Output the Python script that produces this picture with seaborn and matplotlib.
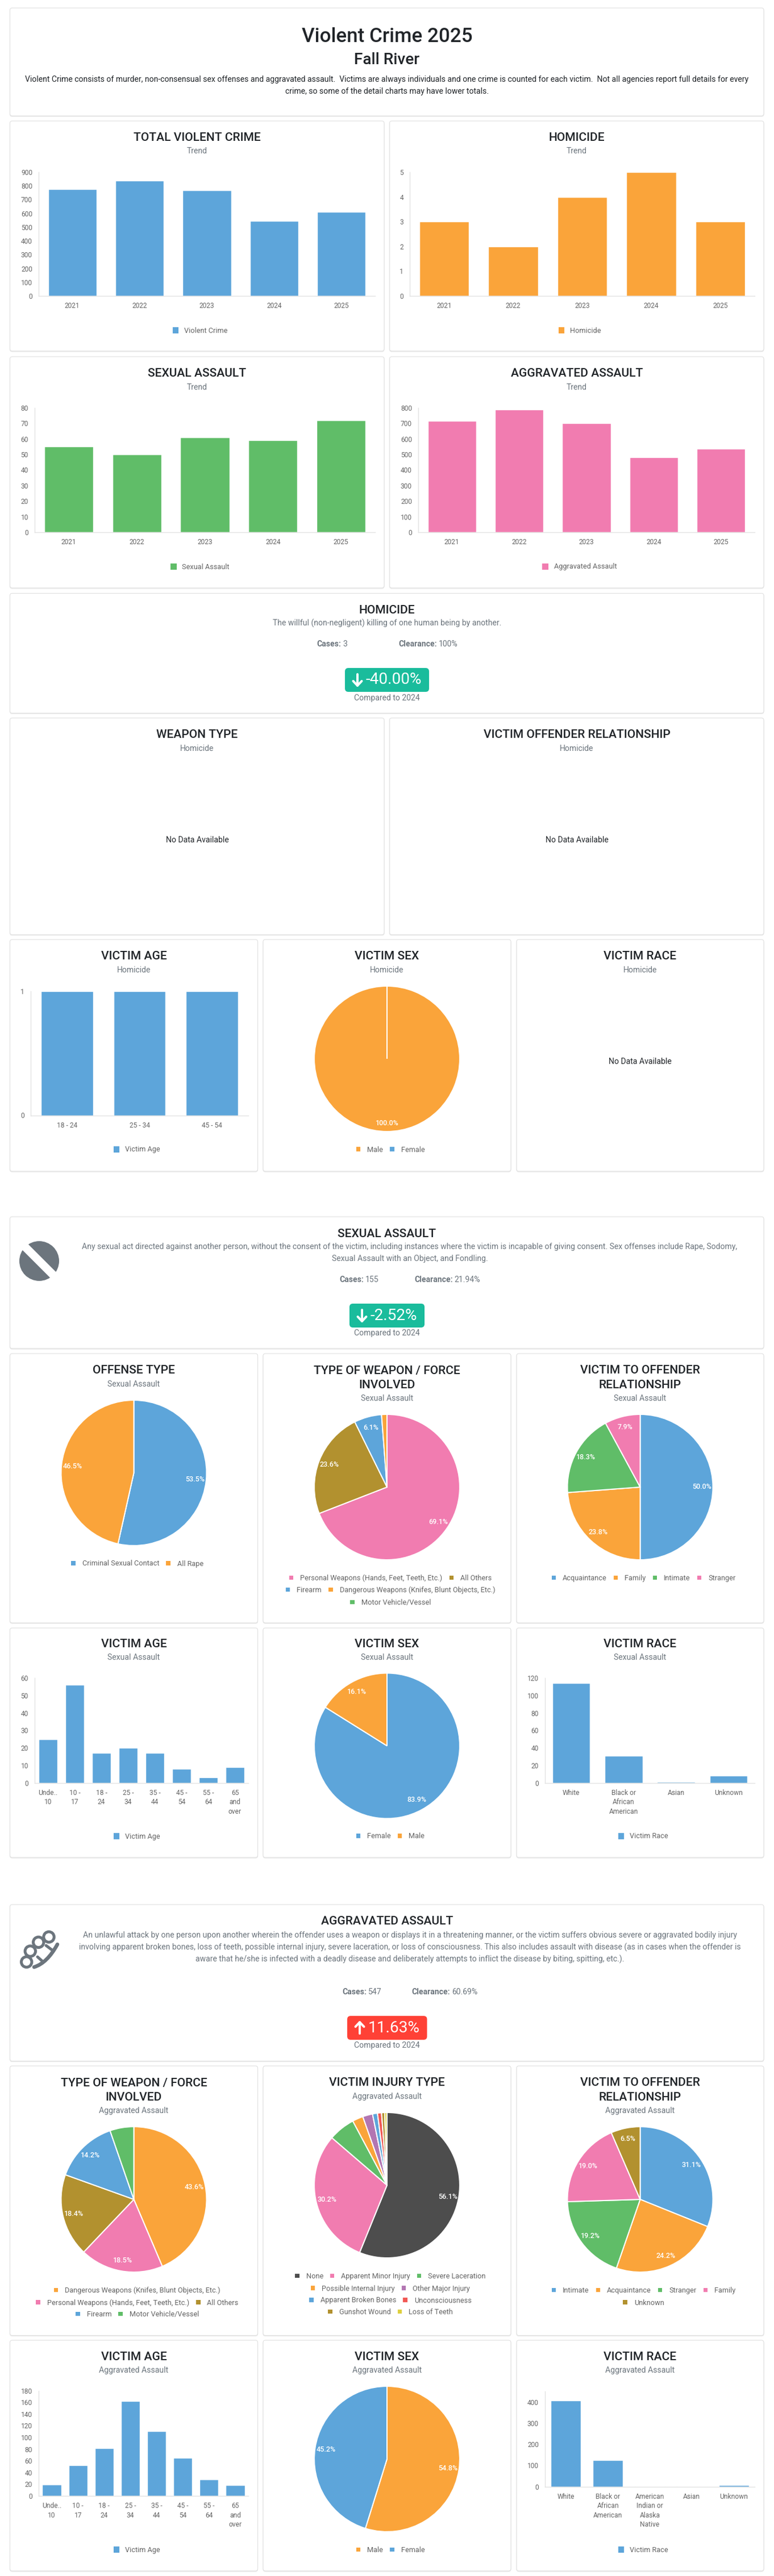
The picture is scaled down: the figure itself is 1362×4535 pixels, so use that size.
#!/usr/bin/env python
# coding: utf-8

import matplotlib
matplotlib.use('Agg')
import matplotlib.pyplot as plt
import seaborn as sns
from matplotlib.patches import FancyBboxPatch, Circle, Rectangle, PathPatch
from matplotlib.path import Path

# Colours
BLUE = '#5DA5DA'
ORANGE = '#FAA43A'
GREEN = '#60BD68'
PINK = '#F17CB0'
BROWN = '#B2912F'
PURPLE = '#B276B2'
RED = '#F15854'
YELLOW = '#DECF3F'
DARK = '#4D4D4D'
INK = '#212529'
MUTED = '#6c757d'
TICK = '#666666'

# Trend charts
years = ['2021', '2022', '2023', '2024', '2025']
total_crime = [775, 840, 768, 547, 612]
homicide = [3, 2, 4, 5, 3]
sexual_assault = [55, 50, 61, 59, 72]
aggravated_assault = [717, 788, 703, 483, 537]

# Homicide details
hom_age_labels = ['18 - 24', '25 - 34', '45 - 54']
hom_age = [1, 1, 1]
hom_sex_labels = ['Male', 'Female']
hom_sex = [100.0, 0.0]

# Sexual assault details
age_labels = ['Unde..\n10', '10 -\n17', '18 -\n24', '25 -\n34', '35 -\n44', '45 -\n54', '55 -\n64', '65\nand\nover']
sa_offense_labels = ['Criminal Sexual Contact', 'All Rape']
sa_offense = [53.5, 46.5]
sa_weapon_labels = ['Personal Weapons (Hands, Feet, Teeth, Etc.)', 'All Others', 'Firearm',
                    'Dangerous Weapons (Knifes, Blunt Objects, Etc.)', 'Motor Vehicle/Vessel']
sa_weapon = [69.1, 23.6, 6.1, 1.2, 0.0]
sa_rel_labels = ['Acquaintance', 'Family', 'Intimate', 'Stranger']
sa_rel = [50.0, 23.8, 18.3, 7.9]
sa_age = [25, 56, 17, 20, 17, 8, 3, 9]
sa_sex_labels = ['Female', 'Male']
sa_sex = [83.9, 16.1]
sa_race_labels = ['White', 'Black or\nAfrican\nAmerican', 'Asian', 'Unknown']
sa_race = [114, 31, 1, 8]

# Aggravated assault details
aa_weapon_labels = ['Dangerous Weapons (Knifes, Blunt Objects, Etc.)', 'Personal Weapons (Hands, Feet, Teeth, Etc.)',
                    'All Others', 'Firearm', 'Motor Vehicle/Vessel']
aa_weapon = [43.6, 18.5, 18.4, 14.2, 5.3]
aa_injury_labels = ['None', 'Apparent Minor Injury', 'Severe Laceration', 'Possible Internal Injury',
                    'Other Major Injury', 'Apparent Broken Bones', 'Unconsciousness', 'Gunshot Wound', 'Loss of Teeth']
aa_injury = [56.2, 30.2, 5.9, 2.4, 2.2, 1.1, 0.9, 0.7, 0.5]
aa_rel_labels = ['Intimate', 'Acquaintance', 'Stranger', 'Family', 'Unknown']
aa_rel = [31.1, 24.2, 19.2, 19.0, 6.5]
aa_age = [19, 52, 82, 162, 111, 65, 28, 18]
aa_sex_labels = ['Male', 'Female']
aa_sex = [54.8, 45.2]
aa_race_labels = ['White', 'Black or\nAfrican\nAmerican', 'American\nIndian or\nAlaska\nNative', 'Asian', 'Unknown']
aa_race = [407, 126, 1, 1, 7]

W, H = 1362, 4535
sns.set_theme(style='white')
plt.rcParams['font.family'] = ['Roboto', 'DejaVu Sans']

fig = plt.figure(figsize=(W / 100, H / 100), dpi=100, facecolor='white')
page = fig.add_axes([0, 0, 1, 1], zorder=0)
page.set_xlim(0, W)
page.set_ylim(H, 0)
page.axis('off')
renderer = fig.canvas.get_renderer()


def px(size):
    return size * 0.72


def text(x, y, s, size=14, color=INK, weight='normal', ha='center'):
    return page.text(x, y, s, fontsize=px(size), color=color, weight=weight, ha=ha, va='center')


def card(x0, y0, x1, y1):
    for off, col in ((1.2, '#ececec'), (0, 'white')):
        page.add_patch(FancyBboxPatch((x0, y0 + off), x1 - x0, y1 - y0, boxstyle='round,pad=0,rounding_size=4',
                                      fc=col, ec='#e0e0e0' if off == 0 else col, lw=0.8))


def title(x, y, s):
    text(x, y, s, size=21, weight='medium')


def legend_row(cx, y, names, colors, box=(7.5, 7.5), gap=12, sep=12):
    items = [page.text(0, y, n, fontsize=px(12.8), color=TICK, ha='left', va='center') for n in names]
    widths = [t.get_window_extent(renderer).width for t in items]
    total = sum(widths) + len(names) * (box[0] + gap) + (len(names) - 1) * sep
    x = cx - total / 2
    for t, w, c in zip(items, widths, colors):
        page.add_patch(Rectangle((x, y - box[1] / 2 - 1), box[0], box[1], fc=c, ec='none'))
        t.set_x(x + box[0] + gap)
        x += box[0] + gap + w + sep


def bar_chart(rect, cats, vals, color, ticks, ymax, legend, legend_x, legend_y):
    left, top, right, base = rect
    ax = fig.add_axes([left / W, 1 - base / H, (right - left) / W, (base - top) / H], zorder=1)
    ax.patch.set_alpha(0)
    sns.barplot(x=cats, y=vals, color=color, width=0.72, saturation=1, ax=ax)
    ax.set_ylim(0, ymax)
    ax.set_yticks(ticks)
    ax.set_xlabel('')
    ax.set_ylabel('')
    ax.tick_params(axis='both', length=0, labelsize=px(12), labelcolor=TICK)
    ax.tick_params(axis='x', pad=8)
    ax.tick_params(axis='y', pad=8)
    for lab in ax.get_xticklabels():
        lab.set_linespacing(1.35)
    sns.despine(ax=ax)
    for side in ('left', 'bottom'):
        ax.spines[side].set_color('#e2e2e2')
        ax.spines[side].set_linewidth(1)
    legend_row(legend_x, legend_y, [legend], [color], box=(10.5, 11), gap=10)


def pie_chart(cx, cy, vals, labels, colors, rows, row_ys, dist=0.85):
    r = 128
    ax = fig.add_axes([(cx - r) / W, 1 - (cy + r) / H, 2 * r / W, 2 * r / H], zorder=1)
    ax.patch.set_alpha(0)
    ax.pie(vals, colors=colors, startangle=90, counterclock=False, radius=1,
           wedgeprops={'edgecolor': 'white', 'linewidth': px(2)},
           autopct=lambda p: f'{p:.1f}%' if p >= 6 else '', pctdistance=dist,
           textprops={'color': 'white', 'fontsize': px(12.5), 'weight': 'medium'})
    ax.set_xlim(-1, 1)
    ax.set_ylim(-1, 1)
    lookup = dict(zip(labels, colors))
    for names, y in zip(rows, row_ys):
        legend_row(cx + 6, y, names, [lookup[n] for n in names])


def badge(x0, y0, x1, y1, s, color, up=False):
    page.add_patch(FancyBboxPatch((x0, y0), x1 - x0, y1 - y0, boxstyle='round,pad=0,rounding_size=6',
                                  fc=color, ec='none'))
    ax_, ay = x0 + 22, (y0 + y1) / 2
    tip, tail = (ay - 10, ay + 10) if up else (ay + 10, ay - 10)
    head = tip + (8 if up else -8)
    page.plot([ax_, ax_], [tail, tip], color='white', lw=px(4), solid_capstyle='round')
    page.plot([ax_ - 7.5, ax_, ax_ + 7.5], [head, tip, head], color='white', lw=px(4),
              solid_capstyle='round', solid_joinstyle='round')
    text(x0 + 37, (y0 + y1) / 2, s, size=28, color='white', ha='left')
    text(681, y1 + 10.5, 'Compared to 2024', color=MUTED)


def stat_line(x, y, head, value):
    t = text(x, y, head, color=MUTED, weight='bold', ha='left')
    w = t.get_window_extent(renderer).width
    text(x + w + 3, y, value, color=MUTED, ha='left')


# Header
card(17.5, 14, 1344, 204)
text(681, 65, 'Violent Crime 2025', size=35, weight='medium')
text(681, 105.5, 'Fall River', size=28, weight='medium')
text(681, 140, 'Violent Crime consists of murder, non-consensual sex offenses and aggravated assault.  Victims are always '
     'individuals and one crime is counted for each victim.  Not all agencies report full details for every')
text(681, 161, 'crime, so some of the detail charts may have lower totals.')

# Trend charts
card(17.5, 213, 676, 618)
card(685.5, 213, 1344, 618)
card(17.5, 628, 676, 1035)
card(685.5, 628, 1344, 1035)
for cx, y, name in ((347, 242, 'TOTAL VIOLENT CRIME'), (1015, 242, 'HOMICIDE'),
                    (347, 657.5, 'SEXUAL ASSAULT'), (1015, 657.5, 'AGGRAVATED ASSAULT')):
    title(cx, y, name)
    text(cx, y + 24, 'Trend', color=MUTED)

bar_chart((68, 303, 660, 521), years, total_crime, BLUE, range(0, 901, 100), 900, 'Violent Crime', 352, 582)
bar_chart((721, 303, 1328, 521), years, homicide, ORANGE, range(0, 6), 5, 'Homicide', 1020, 582)
bar_chart((61, 718, 660, 937), years, sexual_assault, GREEN, range(0, 81, 10), 80, 'Sexual Assault', 352, 998)
bar_chart((736, 718, 1328, 937), years, aggravated_assault, PINK, range(0, 801, 100), 800, 'Aggravated Assault', 1020, 998)

# Homicide section
card(17.5, 1044.5, 1344, 1255.5)
title(681, 1074, 'HOMICIDE')
text(681, 1097, 'The willful (non-negligent) killing of one human being by another.', color=MUTED)
stat_line(557, 1134, 'Cases:', '3')
stat_line(701, 1134, 'Clearance:', '100%')
badge(607, 1176, 755, 1218, '-40.00%', '#1ABC9C')

card(17.5, 1264, 676, 1645.5)
card(685.5, 1264, 1344, 1645.5)
for cx, name in ((347, 'WEAPON TYPE'), (1015, 'VICTIM OFFENDER RELATIONSHIP')):
    title(cx, 1293.5, name)
    text(cx, 1318, 'Homicide', color=MUTED)
    text(cx, 1479, 'No Data Available')

card(17.5, 1654, 453.5, 2062)
card(463, 1654, 899, 2062)
card(909, 1654, 1344, 2062)
for cx, name in ((235.5, 'VICTIM AGE'), (681, 'VICTIM SEX'), (1126.5, 'VICTIM RACE')):
    title(cx, 1683.6, name)
    text(cx, 1708, 'Homicide', color=MUTED)
text(1126.5, 1869, 'No Data Available')
bar_chart((54, 1745, 437, 1963.5), hom_age_labels, hom_age, BLUE, [0, 1], 1, 'Victim Age', 241, 2024)
pie_chart(681, 1864, hom_sex, hom_sex_labels, [ORANGE, BLUE], [hom_sex_labels], [2024], dist=0.885)

# Sexual assault section
card(17.5, 2142, 1344, 2374)
page.add_patch(Circle((69, 2220), 35, fc=MUTED, ec='none'))
page.plot([40, 98], [2191, 2249], color='white', lw=px(14.4), solid_capstyle='butt')
title(681, 2172, 'SEXUAL ASSAULT')
text(721, 2195, 'Any sexual act directed against another person, without the consent of the victim, including instances where '
     'the victim is incapable of giving consent. Sex offenses include Rape, Sodomy,', color=MUTED)
text(721, 2216, 'Sexual Assault with an Object, and Fondling.', color=MUTED)
stat_line(597, 2253, 'Cases:', '155')
stat_line(729, 2253, 'Clearance:', '21.94%')
badge(615, 2295, 747, 2337, '-2.52%', '#1ABC9C')

card(17.5, 2383, 453.5, 2857)
card(463, 2383, 899, 2857)
card(909, 2383, 1344, 2857)
title(235.5, 2413, 'OFFENSE TYPE')
text(235.5, 2437, 'Sexual Assault', color=MUTED)
for cx, l1, l2 in ((681, 'TYPE OF WEAPON / FORCE', 'INVOLVED'), (1126.5, 'VICTIM TO OFFENDER', 'RELATIONSHIP')):
    title(cx, 2413, l1)
    title(cx, 2438, l2)
    text(cx, 2462, 'Sexual Assault', color=MUTED)
pie_chart(235.5, 2593, sa_offense, sa_offense_labels, [BLUE, ORANGE], [sa_offense_labels], [2753])
pie_chart(681, 2618, sa_weapon, sa_weapon_labels, [PINK, BROWN, BLUE, ORANGE, GREEN],
          [sa_weapon_labels[:2], sa_weapon_labels[2:4], sa_weapon_labels[4:]], [2778.5, 2799.5, 2821.5])
pie_chart(1126.5, 2618, sa_rel, sa_rel_labels, [BLUE, ORANGE, GREEN, PINK], [sa_rel_labels], [2778.5])

card(17.5, 2866, 453.5, 3270)
card(463, 2866, 899, 3270)
card(909, 2866, 1344, 3270)
for cx, name in ((235.5, 'VICTIM AGE'), (681, 'VICTIM SEX'), (1126.5, 'VICTIM RACE')):
    title(cx, 2895, name)
    text(cx, 2918.5, 'Sexual Assault', color=MUTED)
bar_chart((61, 2954, 437, 3138.7), age_labels, sa_age, BLUE, range(0, 61, 10), 60, 'Victim Age', 241, 3233)
pie_chart(681, 3073.5, sa_sex, sa_sex_labels, [BLUE, ORANGE], [sa_sex_labels], [3233])
bar_chart((959, 2954, 1328, 3138.7), sa_race_labels, sa_race, BLUE, range(0, 121, 20), 120, 'Victim Race', 1132, 3233)

# Aggravated assault section
card(17.5, 3353, 1344, 3628.5)
for ring_x, ring_y in ((46.7, 3454), (53.3, 3435), (67.7, 3419.3), (86, 3410)):
    page.add_patch(Circle((ring_x, ring_y), 9.2, fc='none', ec=MUTED, lw=px(5)))
grip = Path([(60, 3463), (83, 3456), (101, 3423)], [Path.MOVETO, Path.CURVE3, Path.CURVE3])
page.add_patch(PathPatch(grip, fc='none', ec=MUTED, lw=px(6.5), capstyle='round'))
page.plot([66, 76], [3445, 3454], color=MUTED, lw=px(5))
page.plot([81, 93], [3425, 3434], color=MUTED, lw=px(5))
title(681, 3382, 'AGGRAVATED ASSAULT')
text(721, 3407, 'An unlawful attack by one person upon another wherein the offender uses a weapon or displays it in a threatening '
     'manner, or the victim suffers obvious severe or aggravated bodily injury', color=MUTED)
text(721, 3428, 'involving apparent broken bones, loss of teeth, possible internal injury, severe laceration, or loss of '
     'consciousness. This also includes assault with disease (as in cases when the offender is', color=MUTED)
text(721, 3449, 'aware that he/she is infected with a deadly disease and deliberately attempts to inflict the disease by biting, '
     'spitting, etc.).', color=MUTED)
stat_line(602, 3507, 'Cases:', '547')
stat_line(724.6, 3507, 'Clearance:', '60.69%')
badge(611, 3549, 751.5, 3591, '11.63%', '#FF4136', up=True)

card(17.5, 3637, 453.5, 4111.5)
card(463, 3637, 899, 4111.5)
card(909, 3637, 1344, 4111.5)
for cx, l1, l2 in ((235.5, 'TYPE OF WEAPON / FORCE', 'INVOLVED'), (1126.5, 'VICTIM TO OFFENDER', 'RELATIONSHIP')):
    title(cx, 3667, l1)
    title(cx, 3692, l2)
    text(cx, 3716, 'Aggravated Assault', color=MUTED)
title(681, 3667, 'VICTIM INJURY TYPE')
text(681, 3691, 'Aggravated Assault', color=MUTED)
pie_chart(235.5, 3872, aa_weapon, aa_weapon_labels, [ORANGE, PINK, BROWN, BLUE, GREEN],
          [aa_weapon_labels[:1], aa_weapon_labels[1:3], aa_weapon_labels[3:]], [4032.6, 4054, 4074.6])
pie_chart(681, 3847, aa_injury, aa_injury_labels, [DARK, PINK, GREEN, ORANGE, PURPLE, BLUE, RED, BROWN, YELLOW],
          [aa_injury_labels[:3], aa_injury_labels[3:5], aa_injury_labels[5:7], aa_injury_labels[7:]],
          [4007.5, 4029, 4050, 4070.5])
pie_chart(1126.5, 3872, aa_rel, aa_rel_labels, [BLUE, ORANGE, GREEN, PINK, BROWN],
          [aa_rel_labels[:4], aa_rel_labels[4:]], [4032.6, 4054])

card(17.5, 4120, 453.5, 4526)
card(463, 4120, 899, 4526)
card(909, 4120, 1344, 4526)
for cx, name in ((235.5, 'VICTIM AGE'), (681, 'VICTIM SEX'), (1126.5, 'VICTIM RACE')):
    title(cx, 4149.5, name)
    text(cx, 4173, 'Aggravated Assault', color=MUTED)
bar_chart((68, 4208.7, 437, 4394), age_labels, aa_age, BLUE, range(0, 181, 20), 180, 'Victim Age', 241, 4489.5)
pie_chart(681, 4329, aa_sex, aa_sex_labels, [ORANGE, BLUE], [aa_sex_labels], [4489.5])
bar_chart((959, 4210, 1328, 4377.6), aa_race_labels, aa_race, BLUE, range(0, 401, 100), 450, 'Victim Race', 1132, 4489.5)

fig.savefig('out.png', dpi=100, facecolor='white')
